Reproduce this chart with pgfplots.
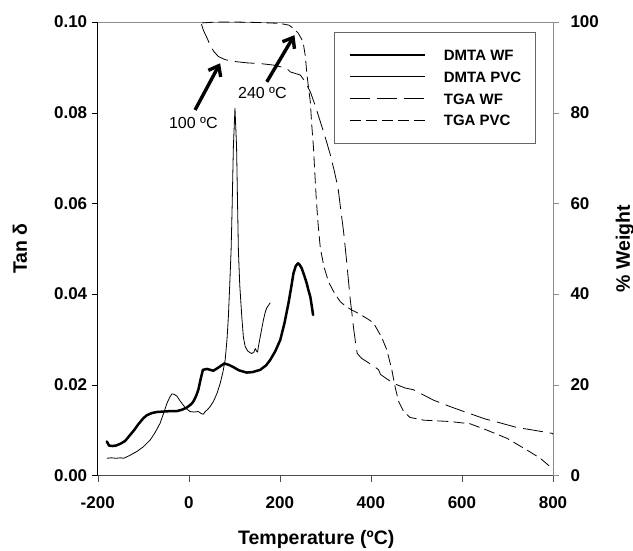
\documentclass[border=0pt]{standalone}
\usepackage{fontspec}
\setmainfont{Liberation Sans}
\usepackage{pgfplots}
\pgfplotsset{compat=1.18}
\usetikzlibrary{arrows.meta}

\begin{document}
\begin{tikzpicture}
\useasboundingbox (-97.7pt,-74.5pt) rectangle (535.3pt,475.5pt);
\pgfplotsset{
  myaxis/.style={
    scale only axis, width=455.3pt, height=453.5pt,
    xmin=-200, xmax=800,
    at={(0pt,0pt)}, anchor=south west,
    tick align=outside, major tick length=6pt,
    /pgf/number format/assume math mode=true,
    tick label style={font=\fontsize{17}{20}\selectfont\bfseries},
    label style={font=\fontsize{19.5}{22}\selectfont\bfseries},
  },
  dmtawf/.style={black, line width=2.5pt, line join=round, line cap=round},
  dmtapvc/.style={black, line width=0.8pt, line join=round},
  tgawf/.style={black, line width=0.8pt, dash pattern=on 20pt off 7pt},
  tgapvc/.style={black, line width=0.8pt, dash pattern=on 11pt off 5pt},
}
\begin{axis}[myaxis,
  axis x line*=bottom, axis y line*=left,
  ymin=0, ymax=0.1,
  xtick={-200,0,200,400,600,800}, xticklabels={-200,0,200,400,600,800},
  ytick={0,0.02,0.04,0.06,0.08,0.1}, yticklabels={0.00,0.02,0.04,0.06,0.08,0.10},
  xticklabel style={yshift=-12pt},
  yticklabel style={xshift=-1pt},
  x axis line style={black!70}, y axis line style={black},
  xtick style={black!70}, ytick style={black},
  xlabel={Temperature (ºC)}, ylabel={Tan δ},
  xlabel style={at={(axis description cs:0.48,-0.14)}, anchor=center},
  ylabel style={at={(axis description cs:-0.171,0.5)}, anchor=center},
]
% DMTA WF
\addplot[dmtawf] coordinates {
(-180,0.0075) (-175,0.0066) (-168,0.0065) (-160,0.0066) (-150,0.0070)
(-140,0.0076) (-130,0.0088) (-120,0.0100) (-110,0.0114) (-100,0.0126)
(-92,0.0133) (-80,0.0138) (-70,0.0140) (-56,0.0141) (-40,0.0142)
(-26,0.0142) (-15,0.0145) (-4,0.0150) (5,0.0157) (10,0.0163)
(16,0.0175) (21,0.0189) (26,0.0212) (31,0.0233) (40,0.0235)
(54,0.0231) (65,0.0238) (78,0.0247) (88,0.0244) (98,0.0239)
(110,0.0232) (127,0.0227) (140,0.0228) (157,0.0233) (170,0.0243)
(179,0.0255) (190,0.0274) (201,0.0299) (210,0.0335) (219,0.0380)
(225,0.0415) (230,0.0446) (235,0.0462) (240,0.0468) (244,0.0464)
(248,0.0457) (254,0.0440) (259,0.0424) (263,0.0408) (267,0.0394)
(270,0.0375) (273,0.0354)
};
% DMTA PVC
\addplot[dmtapvc] coordinates {
(-180,0.0038) (-170,0.0039) (-160,0.0038) (-150,0.0039) (-143,0.0038)
(-130,0.0044) (-114,0.0053) (-100,0.0063) (-85,0.0078) (-75,0.0093)
(-63,0.0115) (-55,0.0138) (-48,0.0159) (-42,0.0172) (-37,0.0180)
(-32,0.0179) (-26,0.0175) (-18,0.0163) (-12,0.0155) (-5,0.0147)
(3,0.0141) (12,0.0140) (21,0.0141) (27,0.0137) (32,0.0135)
(36,0.0141) (40,0.0144) (47,0.0152) (54,0.0163) (62,0.0181)
(69,0.0203) (75,0.0228) (80,0.0255) (84,0.0300) (87,0.0350)
(90,0.0420) (93,0.0497) (95,0.0580) (98,0.0725) (101.5,0.0810)
(105,0.0725) (107.5,0.0580) (109,0.0497) (112,0.0420) (116.5,0.0350)
(120,0.0305) (124,0.0284) (130,0.0274) (138,0.0269) (143,0.0272)
(146,0.0280) (149,0.0274) (151,0.0272) (154,0.0290) (157,0.0306)
(164,0.0343) (168,0.0360) (171,0.0369) (175,0.0375) (179,0.0381)
};
\end{axis}

\begin{axis}[myaxis,
  axis y line*=right, axis x line*=top,
  xtick=\empty,
  ymin=0, ymax=100, ytick={0,20,40,60,80,100},
  yticklabels={0,20,40,60,80,100},
  yticklabel style={xshift=8pt},
  axis line style={black!45}, ytick style={black!45},
  ylabel={\% Weight},
  ylabel style={at={(axis description cs:1.158,0.5)}, anchor=center},
  legend style={at={(axis description cs:0.519,0.979)}, anchor=north west,
    draw=black!60, line width=0.8pt, fill=white,
    inner xsep=14pt, inner ysep=17.7pt, row sep=10.7pt, column sep=18pt,
    font=\fontsize{15}{18}\selectfont\bfseries,
    nodes={inner sep=0pt, text height=11pt, text depth=0pt}},
  legend cell align=left,
  legend image code/.code={\draw[#1] (0pt,0pt) -- (75pt,0pt);},
]
\addlegendimage{dmtawf, line cap=butt}
\addlegendentry{DMTA WF}
\addlegendimage{dmtapvc}
\addlegendentry{DMTA PVC}
% TGA WF
\addplot[tgawf] coordinates {
(28,99.5) (32,98.2) (40,96.5) (47,94.9) (55,93.5) (65,92.4) (75,91.9)
(84,91.6) (100,91.3) (127,91.0) (160,90.8) (186,90.5) (215,89.8)
(223,89.0) (245,88.3) (256,86.8) (267,84.6) (278,81.5) (289,78.0)
(300,74.5) (311,70.7) (320,67.0) (328,63.3) (334,58.5) (340,53.8)
(346,48.0) (351,42.7) (355,38.5) (358,36.1) (362,32.5) (366,29.5)
(370,26.9) (380,25.8) (391,25.1) (405,24.2) (417,23.3) (421,22.3)
(435,21.3) (450,20.3) (475,19.3) (494,18.9) (501,18.5) (538,16.6)
(574,15.2) (596,14.4) (650,12.5) (684,11.6) (720,10.6) (757,10.0)
(798,9.3) (800,9.1)
};
\addlegendentry{TGA WF}
% TGA PVC
\addplot[tgapvc] coordinates {
(30,99.8) (60,100) (100,100) (150,99.9) (200,99.7) (220,99.3)
(230,98.6) (240,97.6) (248,96.2) (252,95.0) (256,92.5) (259,89.0)
(263,85.5) (267,82.4) (270,77.5) (274,72.2) (277,66.5) (280,61.1)
(284,55.5) (289,50.1) (297,46.0) (307,42.7) (320,40.2) (333,38.3)
(345,37.3) (358,36.5) (372,35.8) (385,35.0) (395,34.4) (406,33.6)
(415,32.0) (424,30.4) (435,27.7) (446,23.3) (453,19.6) (461,16.3)
(472,14.1) (486,12.8) (516,12.2) (574,11.9) (618,11.4) (655,10.0)
(699,8.2) (743,5.6) (772,3.8) (800,1.4)
};
\addlegendentry{TGA PVC}
% annotations
\draw[line width=3.4pt, -{Straight Barb[length=9pt,width=14pt]}]
  (axis cs:13.8,80.6) -- (axis cs:68.8,90.9);
\draw[line width=3.4pt, -{Straight Barb[length=9pt,width=14pt]}]
  (axis cs:171.4,86.8) -- (axis cs:232.1,97.1);
\node[font=\fontsize{16}{19}\selectfont] at (axis cs:10.1,77.7) {100 ºC};
\node[font=\fontsize{16}{19}\selectfont] at (axis cs:161.7,84.3) {240 ºC};
\end{axis}
\end{tikzpicture}
\end{document}
